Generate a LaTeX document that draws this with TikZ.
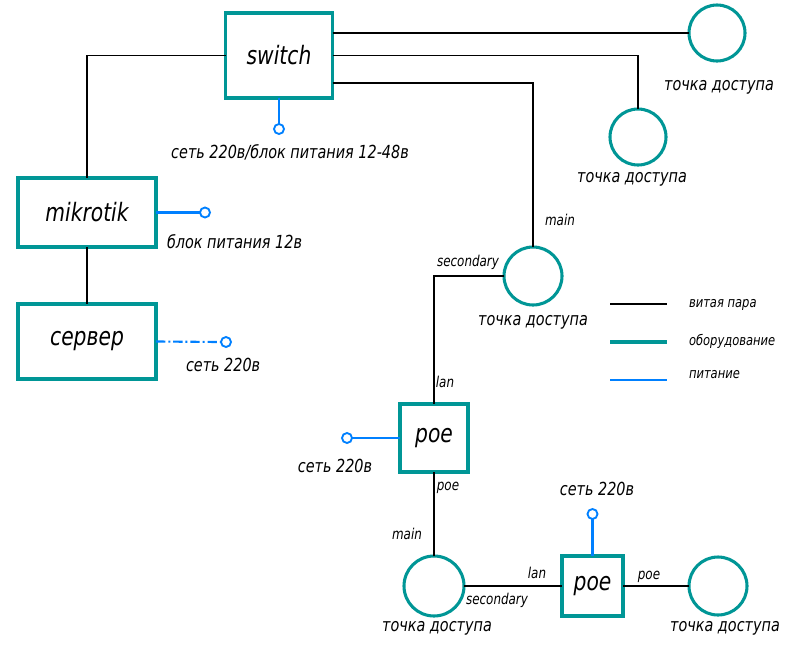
\documentclass[tikz,border=0pt]{standalone}
\usepackage{fontspec}
\setmainfont{DejaVu Sans}[FakeStretch=0.8]
\definecolor{teal}{RGB}{0,150,150}
\definecolor{pblue}{RGB}{0,128,255}
\begin{document}
\begin{tikzpicture}[x=0.75pt,y=-0.75pt,
  every node/.style={font=\itshape, inner sep=0pt, outer sep=0pt},
  box/.style={draw=teal, line width=2.3pt, rectangle},
  ap/.style={draw=teal, line width=2.3pt, circle},
  pc/.style={draw=pblue, line width=1.4pt, circle, minimum size=7.5pt},
  wire/.style={draw=black, line width=0.8pt},
  pw/.style={draw=pblue, line width=1.6pt},
  big/.style={font=\itshape\fontsize{19}{21}\selectfont},
  lbl/.style={font=\itshape\fontsize{13.5}{15}\selectfont},
  sm/.style={font=\itshape\fontsize{11.2}{13}\selectfont},
  leg/.style={font=\itshape\fontsize{10.8}{12}\selectfont, anchor=west}]
\useasboundingbox (0,0) rectangle (800,654);
% equipment boxes
\node[box, big, minimum width=80.25pt, minimum height=63.75pt] (switch) at (279,55.5) {switch};
\node[box, big, minimum width=103.5pt, minimum height=51.75pt] (mikrotik) at (87,212.5) {mikrotik};
\node[box, big, minimum width=103.5pt, minimum height=56.25pt] (server) at (87,341.5) {сервер};
\node[box, big, minimum width=51pt, minimum height=51pt] (poe1) at (434,438) {poe};
\node[box, big, minimum width=45.75pt, minimum height=45pt] (poe2) at (592.5,586) {poe};
% access points
\node[ap, minimum size=42pt] (ap1) at (717,33) {};
\node[ap, minimum size=42pt] (ap2) at (638,137) {};
\node[ap, minimum size=43.5pt] (ap3) at (533,276) {};
\node[ap, minimum size=45pt] (ap4) at (434,586) {};
\node[ap, minimum size=43.5pt] (ap5) at (718,586) {};
% power points
\node[pc] (psw) at (279,129) {};
\node[pc] (pmk) at (205,212.5) {};
\node[pc] (psv) at (226,342) {};
\node[pc] (pp1) at (347,438) {};
\node[pc] (pp2) at (592.5,514) {};
% twisted pair
\draw[wire] (switch.east |- ap1.west) -- (ap1.west);
\draw[wire] (switch.east) -| (ap2.north);
\draw[wire] (switch.east |- 0,83) -| (ap3.north);
\draw[wire] (switch.west) -| (mikrotik.north);
\draw[wire] (mikrotik.south) -- (server.north);
\draw[wire] (ap3.west) -| (poe1.north);
\draw[wire] (poe1.south) -- (ap4.north);
\draw[wire] (ap4.east) -- (poe2.west);
\draw[wire] (poe2.east) -- (ap5.west);
% power
\draw[pw] (switch.south) -- (psw.north);
\draw[pw] (mikrotik.east) -- (pmk.west);
\draw[pw, dash pattern=on 7pt off 2.2pt on 1.5pt off 2.2pt] (server.east) -- (psv.west);
\draw[pw] (poe1.west) -- (pp1.east);
\draw[pw] (poe2.north) -- (pp2.south);
% labels
\node[lbl] (tsw) at (290,152) {сеть 220в/блок питания 12-48в};
\node[lbl, anchor=west] (tmk) at (167,242) {блок питания 12в};
\node[lbl, anchor=west] (tsv) at (186,365) {сеть 220в};
\node[lbl] (tp1) at (335,466) {сеть 220в};
\node[lbl] (tp2) at (597,489) {сеть 220в};
\node[lbl] (tap1) at (719,87) {точка доступа};
\node[lbl] (tap2) at (632,179) {точка доступа};
\node[lbl] (tap3) at (533,322) {точка доступа};
\node[lbl] (tap4) at (437,628) {точка доступа};
\node[lbl] (tap5) at (725,628) {точка доступа};
\node[sm] (l1) at (560,220) {main};
\node[sm] (l2) at (468,262) {secondary};
\node[sm] (l3) at (445,382) {lan};
\node[sm] (l4) at (448,488) {poe};
\node[sm] (l5) at (407,534) {main};
\node[sm] (l6) at (537,573) {lan};
\node[sm] (l7) at (497,600) {secondary};
\node[sm] (l8) at (649,577) {poe};
% legend
\coordinate (la1) at (610,304); \coordinate (lb1) at (667,304);
\coordinate (la2) at (610,342); \coordinate (lb2) at (667,342);
\coordinate (la3) at (610,380); \coordinate (lb3) at (667,380);
\draw[wire] (la1) -- (lb1);
\draw[draw=teal, line width=2.3pt] (la2) -- (lb2);
\draw[pw] (la3) -- (lb3);
\node[leg] (g1) at (689,305) {витая пара};
\node[leg] (g2) at (689,341) {оборудование};
\node[leg] (g3) at (689,375) {питание};
\end{tikzpicture}
\end{document}
